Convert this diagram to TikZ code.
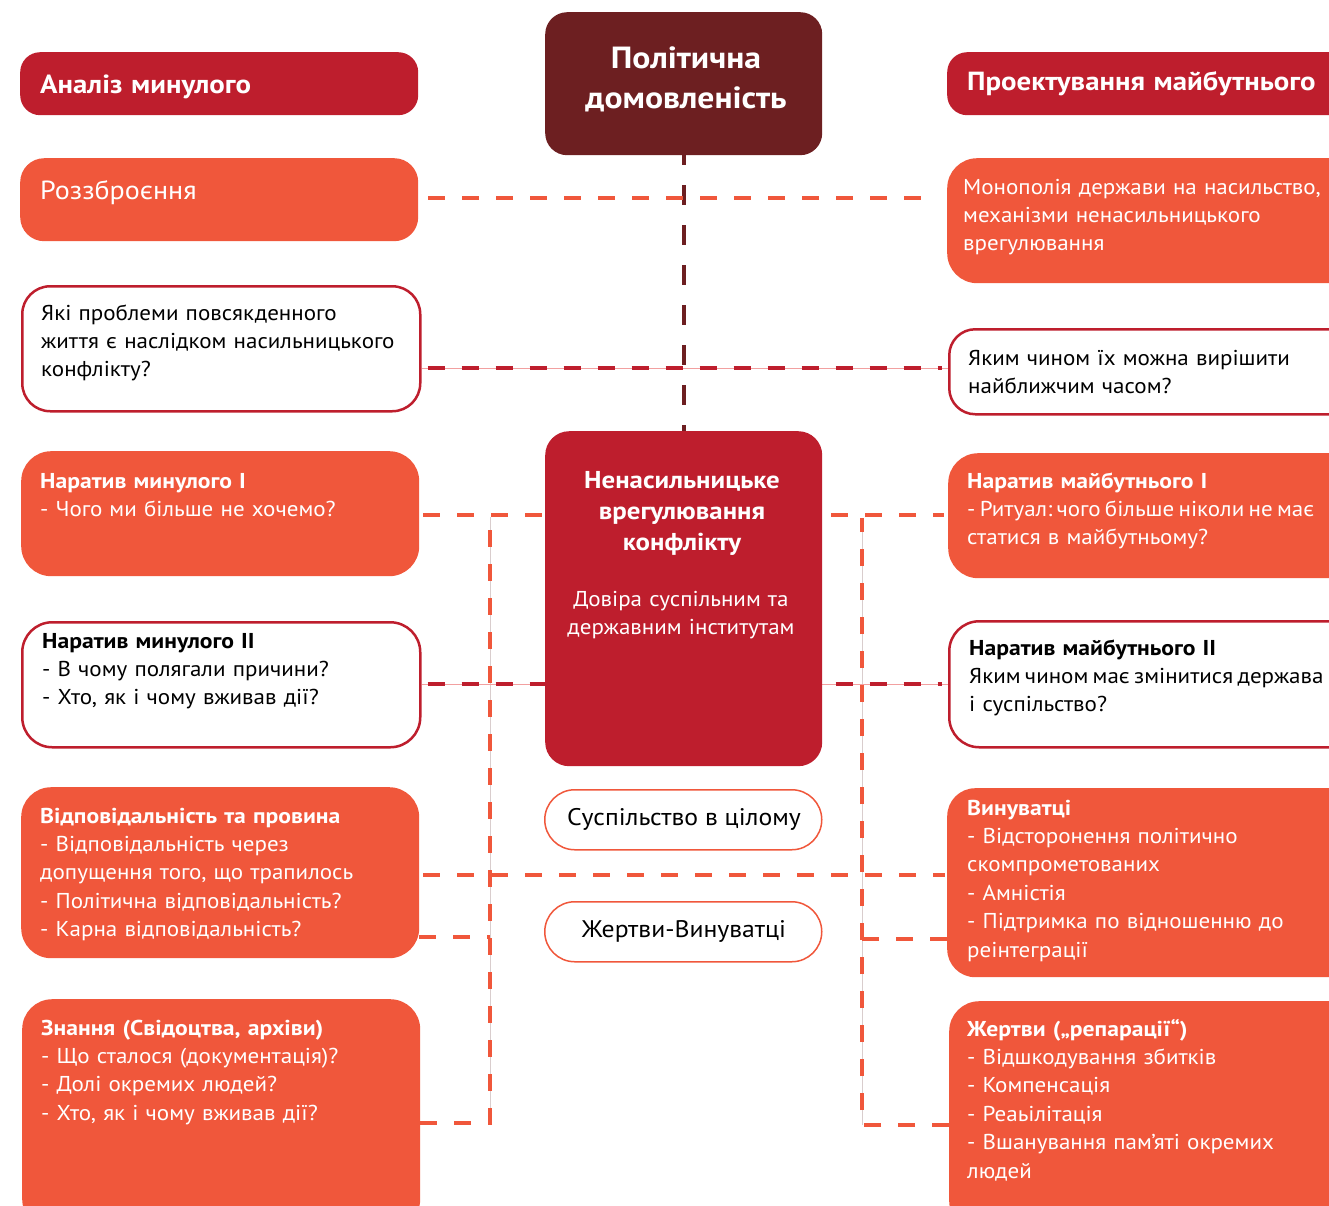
\documentclass[tikz,border=0pt]{standalone}
\usepackage{fontspec}
\setmainfont{PT Sans}[FakeStretch=1.07, BoldFeatures={FakeStretch=1.1}]
\usetikzlibrary{backgrounds,calc}
\definecolor{crim}{HTML}{BE1E2D}
\definecolor{ora}{HTML}{F0573B}
\definecolor{maro}{HTML}{6D1F21}
\definecolor{thinc}{HTML}{D9CDCD}
\definecolor{pinkl}{HTML}{F2A0A0}
\frenchspacing
\newcommand{\tightws}[1]{{\spaceskip=0.7\fontdimen2\font\relax\xspaceskip=\spaceskip #1}}
\begin{document}
\begin{tikzpicture}[x=1pt,y=-1pt,
  box/.style={inner sep=0pt, anchor=north west, rounded corners=24pt},
  crimbox/.style={box, fill=crim},
  orabox/.style={box, fill=ora},
  whbox/.style={box, fill=white, draw=crim, line width=2.5pt},
  pill/.style={inner sep=0pt, anchor=north west, rounded corners=30pt, fill=white, draw=ora, line width=1.5pt},
  body/.style={inner sep=0pt, anchor=base west, text width=420pt, align=left, font=\fontsize{21.5}{28.4}\selectfont},
  wtxt/.style={body, text=white},
  btxt/.style={body, text=black},
  odash/.style={draw=ora, line width=4.5pt, dash pattern=on 17pt off 17pt},
  cdash/.style={draw=crim, line width=4.5pt, dash pattern=on 17pt off 17pt},
  mdash/.style={draw=maro, line width=4pt, dash pattern=on 20pt off 20pt},
]
\useasboundingbox (0,0) rectangle (1329,1205);
\clip (0,0) rectangle (1329,1205);

% ---- left column
\node[crimbox, minimum width=398pt, minimum height=63pt, rounded corners=20pt] (L0) at (20,52) {};
\node[wtxt, font=\fontsize{26.2}{30}\selectfont\bfseries] (L0t) at (40,93) {Аналіз минулого};
\node[orabox, minimum width=398pt, minimum height=83pt] (L1) at (20,158) {};
\node[wtxt, font=\fontsize{26.2}{30}\selectfont] (L1t) at (40,199) {Роззброєння};
\node[whbox, minimum width=398pt, minimum height=125pt, rounded corners=28pt] (L2) at (21,285) {};
\node[btxt] (L2t) at (41,320) {Які проблеми повсякденного\\життя є наслідком насильницького\\конфлікту?};
\node[orabox, minimum width=398pt, minimum height=125pt, rounded corners=30pt] (L3) at (21,451) {};
\node[wtxt] (L3t) at (40,488) {\textbf{Наратив минулого I}\\- Чого ми більше не хочемо?};
\node[whbox, minimum width=398pt, minimum height=125pt, rounded corners=30pt] (L4) at (21,621) {};
\node[btxt] (L4t) at (42,648) {\textbf{Наратив минулого II}\\- В чому полягали причини?\\- Хто, як і чому вживав дії?};
\node[orabox, minimum width=398pt, minimum height=171pt, rounded corners=30pt] (L5) at (21,787) {};
\node[wtxt] (L5t) at (40,823) {\textbf{Відповідальність та провина}\\- Відповідальність через\\допущення того, що трапилось\\- Політична відповідальність?\\- Карна відповідальність?};
\node[orabox, minimum width=398pt, minimum height=230pt, rounded corners=30pt] (L6) at (22,999) {};
\node[wtxt] (L6t) at (41,1035) {\textbf{Знання (Свідоцтва, архіви)}\\- Що сталося (документація)?\\- Долі окремих людей?\\- Хто, як і чому вживав дії?};

% ---- centre column
\node[box, fill=maro, minimum width=277pt, minimum height=143pt, rounded corners=22pt] (C0) at (545,12) {};
\node[inner sep=0pt, anchor=base, text width=300pt, align=center, text=white, font=\fontsize{30.6}{40}\selectfont\bfseries] (C0t) at (686,68) {Політична\\домовленість};
\node[crimbox, minimum width=277pt, minimum height=335pt, rounded corners=24pt] (C1) at (545,431) {};
\node[inner sep=0pt, anchor=base, text width=270pt, align=center, text=white, font=\fontsize{24.4}{31}\selectfont\bfseries] (C1t) at (682,488) {Ненасильницьке\\врегулювання\\конфлікту};
\node[inner sep=0pt, anchor=base, text width=270pt, align=center, text=white, font=\fontsize{21.5}{28}\selectfont] (C1s) at (681,606) {Довіра суспільним та\\державним інститутам};
\node[pill, minimum width=277pt, minimum height=60pt] (C2) at (544,789) {};
\node[inner sep=0pt, font=\fontsize{24}{28}\selectfont] (C2t) at (684,819) {Суспільство в цілому};
\node[pill, minimum width=277pt, minimum height=60pt] (C3) at (544,901) {};
\node[inner sep=0pt, font=\fontsize{24}{28}\selectfont] (C3t) at (684,931) {Жертви-Винуватці};

% ---- right column
\node[crimbox, minimum width=420pt, minimum height=63pt, rounded corners=20pt] (R0) at (947,52) {};
\node[wtxt, font=\fontsize{26.2}{30}\selectfont\bfseries] (R0t) at (967,90) {Проектування майбутнього};
\node[orabox, minimum width=420pt, minimum height=125pt, rounded corners=30pt] (R1) at (947,158) {};
\node[wtxt] (R1t) at (963,194) {Монополія держави на насильство,\\механізми ненасильницького\\врегулювання};
\node[whbox, minimum width=420pt, minimum height=85pt, rounded corners=26pt] (R2) at (948,328) {};
\node[btxt] (R2t) at (968,365) {Яким чином їх можна вирішити\\найближчим часом?};
\node[orabox, minimum width=420pt, minimum height=125pt, rounded corners=30pt] (R3) at (948,453) {};
\node[wtxt] (R3t) at (967,488) {\textbf{Наратив майбутнього I}\\\tightws{- Ритуал: чого більше ніколи не має}\\статися в майбутньому?};
\node[whbox, minimum width=420pt, minimum height=126pt, rounded corners=30pt] (R4) at (948,620) {};
\node[btxt] (R4t) at (969,655) {\textbf{Наратив майбутнього II}\\\tightws{Яким чином має змінитися держава}\\і суспільство?};
\node[orabox, minimum width=420pt, minimum height=189pt, rounded corners=28pt] (R5) at (947,788) {};
\node[wtxt] (R5t) at (967,815) {\textbf{Винуватці}\\- Відсторонення політично\\скомпрометованих\\- Амністія\\- Підтримка по відношенню до\\реінтеграції};
\node[orabox, minimum width=420pt, minimum height=230pt, rounded corners=30pt] (R6) at (949,1001) {};
\node[wtxt] (R6t) at (967,1036) {\textbf{Жертви („репарації“)}\\- Відшкодування збитків\\- Компенсація\\- Реаьілітація\\- Вшанування пам’яті окремих\\людей};

% ---- bracket corners
\coordinate (LB) at (490,1123);
\coordinate (LT) at (490,517);
\coordinate (RB) at (862,1125);
\coordinate (RT) at (862,518);

\begin{pgfonlayer}{background}
  % thin underlying lines
  \draw[draw=thinc, line width=0.8pt] (LT) -- (LB);
  \draw[draw=thinc, line width=0.8pt] (RT) -- (RB);
  \draw[draw=pinkl, line width=0.8pt] (L4.east |- 0,684) -- (R4.west |- 0,684);
  \draw[draw=pinkl, line width=0.8pt] (L2.east |- 0,368) -- (R2.west |- 0,368);
  % political agreement down to central box
  \draw[mdash, dash phase=10pt] (C0.south) -- (C1.north);
  % disarmament row
  \draw[odash, shorten <=10pt, shorten >=10pt] (L1.east |- 0,198) -- (R1.west |- 0,198);
  % everyday problems row
  \draw[cdash, shorten <=6pt, shorten >=6pt] (L2.east |- 0,368) -- (R2.west |- 0,368);
  % narrative I row
  \draw[odash, shorten <=4pt, shorten >=4pt] (L3.east |- 0,515) -- (R3.west |- 0,515);
  % narrative II row
  \draw[cdash, shorten <=6pt, shorten >=6pt] (L4.east |- 0,684) -- (R4.west |- 0,684);
  % responsibility row
  \draw[odash, shorten <=4pt, shorten >=2pt] (L5.east |- 0,875) -- (R5.west |- 0,875);
  % left bracket
  \draw[odash] (L5.east |- 0,937) -- (490,937);
  \draw[odash] (L6.east |- 0,1123) -- (LB) -- (LT);
  % right bracket
  \draw[odash] (R5.west |- 0,939) -- (862,939);
  \draw[odash] (R6.west |- 0,1125) -- (RB) -- (RT);
\end{pgfonlayer}
\end{tikzpicture}
\end{document}
